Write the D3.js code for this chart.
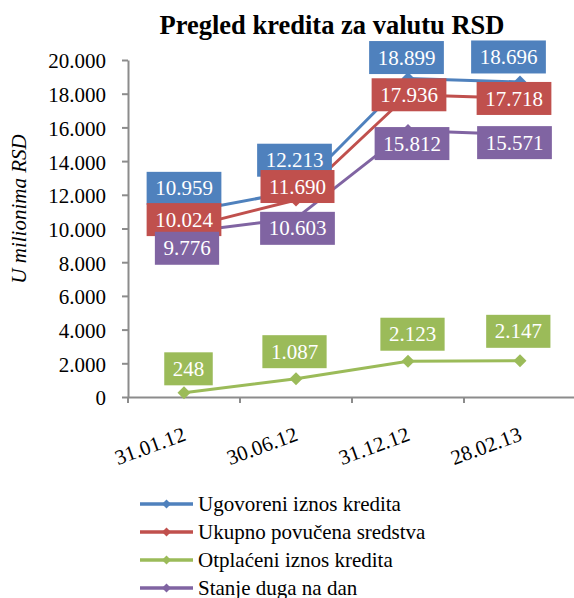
<!DOCTYPE html>
<html>
<head>
<meta charset="utf-8">
<script src="https://cdn.jsdelivr.net/npm/d3@7"></script>
<style>
  html, body { margin: 0; padding: 0; background: #fff; }
  svg { display: block; }
</style>
</head>
<body>
<svg id="chart" width="574" height="598"></svg>
<script>
// Loan overview in RSD (millions), four reporting dates
const dates = ["31.01.12", "30.06.12", "31.12.12", "28.02.13"];
const seriesNames = [
  "Ugovoreni iznos kredita",
  "Ukupno povučena sredstva",
  "Otplaćeni iznos kredita",
  "Stanje duga na dan"
];
const ugovoreni = [10959, 12213, 18899, 18696];
const povucena  = [10024, 11690, 17936, 17718];
const otplaceni = [248, 1087, 2123, 2147];
const stanje    = [9776, 10603, 15812, 15571];
const yTicks = [0, 2000, 4000, 6000, 8000, 10000, 12000, 14000, 16000, 18000, 20000];

const colors = ["#4F81BD", "#C0504D", "#9BBB59", "#8064A2"];
const values = [ugovoreni, povucena, otplaceni, stanje];

// label box nudges (px) relative to each point, per series
const labelNudge = [
  [[0, -24], [-1.5, -31], [-1.5, -21], [-11.5, -25]],
  [[0, -8.5], [1.5, -13.5], [1, 0], [-6, 0]],
  [[4.5, -24], [-1.5, -27], [4.5, -27], [-1.7, -29.5]],
  [[3, 16], [1.5, 10], [4, 13], [-5.5, 8]]
];

const FONT = "'Liberation Serif'";
const fmt = v => d3.format(",")(v).replace(/,/g, ".");

const svg = d3.select("#chart");
const plot = { left: 128, right: 576, top: 60, bottom: 397 };

const x = d3.scaleBand().domain(dates).range([plot.left, plot.right]);
const y = d3.scaleLinear().domain([0, 20000]).range([plot.bottom, plot.top]);

function serif(sel) { return sel.style("font-family", FONT); }

// title
svg.append("text")
  .attr("x", 332).attr("y", 34)
  .attr("text-anchor", "middle")
  .attr("font-size", 26.5).style("font-weight", "bold")
  .call(serif)
  .text("Pregled kredita za valutu RSD");

// y axis title
svg.append("text")
  .attr("transform", "translate(26,209) rotate(-90)")
  .attr("text-anchor", "middle")
  .attr("font-size", 21).style("font-style", "italic")
  .call(serif)
  .text("U milionima RSD");

// y axis
const yAxis = svg.append("g")
  .attr("transform", `translate(${plot.left},0)`)
  .call(d3.axisLeft(y).tickValues(yTicks).tickFormat(fmt).tickSizeInner(6).tickSizeOuter(0).tickPadding(16));
yAxis.attr("font-family", null);
yAxis.select(".domain").attr("stroke", "#8C8C8C").attr("stroke-width", 2);
yAxis.selectAll(".tick line").attr("stroke", "#8C8C8C").attr("stroke-width", 2);
yAxis.selectAll(".tick text")
  .attr("font-size", 21).attr("fill", "#000")
  .call(serif)
  .attr("dy", "0.38em");

// x axis
const xAxis = svg.append("g")
  .attr("transform", `translate(0,${plot.bottom})`)
  .call(d3.axisBottom(x).tickSizeInner(0).tickSizeOuter(0).tickFormat(""));
xAxis.select(".domain").attr("stroke", "#8C8C8C").attr("stroke-width", 2);
xAxis.selectAll(".tick").remove();
// category boundary ticks
const bounds = dates.map(d => x(d)).concat([plot.right]);
xAxis.selectAll("line.cat").data(bounds).join("line")
  .attr("class", "cat")
  .attr("x1", d => d).attr("x2", d => d)
  .attr("y1", 0).attr("y2", 6)
  .attr("stroke", "#8C8C8C").attr("stroke-width", 2);

// rotated category labels
svg.append("g").selectAll("text").data(dates).join("text")
  .attr("transform", d => `translate(${x(d) + x.bandwidth() / 2 + 3},${440}) rotate(-20)`)
  .attr("text-anchor", "end")
  .attr("font-size", 21)
  .call(serif)
  .text(d => d);

const cx = d => x(d) + x.bandwidth() / 2;
const line = d3.line().x(d => cx(d.date)).y(d => y(d.value));
const diamond = d3.symbol(d3.symbolSquare, 84);

// series lines and markers
values.forEach((vals, i) => {
  const pts = dates.map((d, j) => ({ date: d, value: vals[j] }));
  const g = svg.append("g");
  g.append("path").datum(pts)
    .attr("d", line).attr("fill", "none")
    .attr("stroke", colors[i]).attr("stroke-width", 3)
    .attr("stroke-linejoin", "round");
  g.selectAll("path.m").data(pts).join("path")
    .attr("class", "m")
    .attr("d", diamond)
    .attr("transform", d => `translate(${cx(d.date)},${y(d.value)}) rotate(45)`)
    .attr("fill", colors[i]);
});

// value labels in filled boxes
const measure = svg.append("text").attr("font-size", 21).call(serif).attr("visibility", "hidden");
values.forEach((vals, i) => {
  const g = svg.append("g");
  dates.forEach((d, j) => {
    const label = fmt(vals[j]);
    measure.text(label);
    const w = measure.node().getComputedTextLength() + 17;
    const h = 33;
    const px = cx(d) + labelNudge[i][j][0];
    const py = y(vals[j]) + labelNudge[i][j][1];
    g.append("rect")
      .attr("x", px - w / 2).attr("y", py - h / 2)
      .attr("width", w).attr("height", h)
      .attr("fill", colors[i]);
    g.append("text")
      .attr("x", px).attr("y", py)
      .attr("dy", "0.34em")
      .attr("text-anchor", "middle")
      .attr("font-size", 21).attr("fill", "#fff")
      .call(serif)
      .text(label);
  });
});
measure.remove();

// legend
const legend = svg.append("g");
seriesNames.forEach((name, i) => {
  const ly = 504 + i * 28;
  legend.append("line")
    .attr("x1", 140).attr("x2", 193).attr("y1", ly).attr("y2", ly)
    .attr("stroke", colors[i]).attr("stroke-width", 3.5);
  legend.append("path")
    .attr("d", d3.symbol(d3.symbolSquare, 40)())
    .attr("transform", `translate(166.5,${ly}) rotate(45)`)
    .attr("fill", colors[i]);
  legend.append("text")
    .attr("x", 198).attr("y", ly).attr("dy", "0.33em")
    .attr("font-size", 21)
    .call(serif)
    .text(name);
});
</script>
</body>
</html>
